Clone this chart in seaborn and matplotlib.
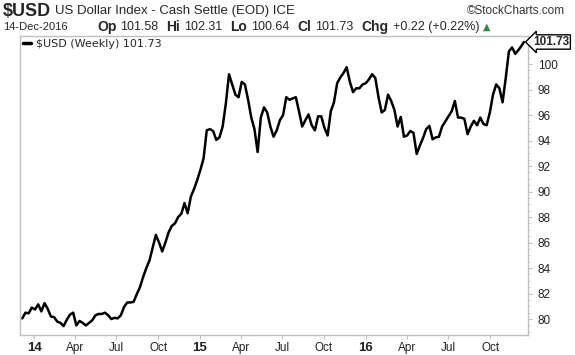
import numpy as np
import pandas as pd
import seaborn as sns
import matplotlib.pyplot as plt
import matplotlib.dates as mdates

# weekly closes of $USD (Dec 2013 .. 14 Dec 2016)
usd_weekly = [
    80.05, 80.5, 80.45, 80.9, 80.75, 81.15, 80.6, 81.25, 80.8, 80.2,
    80.15, 79.8, 79.7, 79.45, 79.95, 80.35, 80.5, 79.5, 79.85, 79.7,
    79.5, 79.7, 79.9, 80.3, 80.4, 80.4, 80.5, 80.3, 80.0, 80.1,
    80.05, 80.3, 80.95, 81.3, 81.3, 81.35, 81.95, 82.5, 83.3, 84.0,
    84.6, 85.6, 86.6, 86.0, 85.3, 86.0, 86.8, 87.3, 87.5, 88.0,
    88.25, 89.1, 88.3, 89.6, 90.2, 90.9, 91.7, 92.6, 94.8, 94.9,
    94.75, 94.05, 94.25, 95.1, 96.9, 99.2, 98.4, 97.6, 97.4, 98.6,
    98.4, 97.2, 95.8, 94.9, 93.1, 95.8, 96.6, 96.2, 95.1, 94.3,
    94.8, 95.6, 96.0, 97.4, 97.2, 97.3, 97.4, 96.3, 95.1, 95.6,
    96.05, 95.2, 94.8, 95.9, 95.9, 95.0, 94.4, 96.3, 97.0, 98.5,
    98.95, 99.3, 99.75, 98.6, 97.8, 98.1, 98.1, 98.4, 98.5, 98.8,
    99.2, 98.9, 97.4, 96.2, 96.4, 97.6, 97.1, 96.4, 95.1, 95.85,
    94.3, 94.4, 94.75, 94.6, 92.95, 93.6, 94.2, 94.9, 95.15, 94.1,
    94.25, 94.3, 95.1, 95.5, 95.9, 96.3, 97.1, 95.8, 95.8, 95.7,
    94.5, 95.1, 95.55, 95.2, 95.8, 95.3, 95.2, 96.2, 97.6, 98.4,
    98.1, 97.0, 98.9, 101.0, 101.3, 100.8, 101.1, 101.45, 101.73,
]

week_dates = list(pd.date_range("2013-12-06", periods=len(usd_weekly) - 1, freq="W-FRI"))
week_dates.append(pd.Timestamp("2016-12-14"))

# quote header
symbol = "$USD"
name = "US Dollar Index - Cash Settle (EOD) ICE"
quote_date = "14-Dec-2016"
op, hi, lo, cl = 101.58, 102.31, 100.64, 101.73
chg, chg_pct = 0.22, 0.22

y_ticks = list(range(80, 101, 2))

df = pd.DataFrame({"date": week_dates, "close": usd_weekly})

sns.set_style("white")
plt.rcParams["font.family"] = ["Liberation Sans", "DejaVu Sans"]

W, H = 575, 355
fig = plt.figure(figsize=(W / 100, H / 100), dpi=100)
# axes box in pixels: left 20, right 528, top 36, bottom 335
ax = fig.add_axes([20 / W, 1 - 335 / H, (528 - 20) / W, (335 - 36) / H])

sns.lineplot(data=df, x="date", y="close", ax=ax, color="black", linewidth=1.8)

ax.set_xlim(pd.Timestamp("2013-12-01"), pd.Timestamp("2016-12-23"))
ax.set_ylim(78.75, 102.2)
ax.set_xlabel("")
ax.set_ylabel("")

for s in ax.spines.values():
    s.set_color("#c0c0c0")
    s.set_linewidth(1.0)

# right-hand price scale
ax.yaxis.tick_right()
ax.set_yticks(y_ticks)
ax.set_yticklabels([str(t) for t in y_ticks])
ax.yaxis.set_minor_locator(plt.MultipleLocator(0.5))
ax.tick_params(axis="y", which="major", right=True, length=3, color="#c0c0c0",
               labelsize=8.5, pad=4, labelcolor="#222222")
ax.tick_params(axis="y", which="minor", right=True, length=1.5, color="#c0c0c0")

# month ticks, year ticks in bold
ax.xaxis.set_major_locator(mdates.MonthLocator(bymonth=[1, 4, 7, 10]))

def month_fmt(x, pos=None):
    d = mdates.num2date(x)
    return d.strftime("%y") if d.month == 1 else d.strftime("%b")

ax.xaxis.set_major_formatter(plt.FuncFormatter(month_fmt))
ax.tick_params(axis="x", which="major", bottom=True, length=3, color="#c0c0c0",
               labelsize=8.5, pad=2, labelcolor="#222222")
ax.tick_params(axis="x", which="minor", bottom=False)
fig.canvas.draw()
for lab in ax.get_xticklabels():
    if lab.get_text().isdigit():
        lab.set_fontweight("bold")
        lab.set_fontsize(9.5)

# legend line inside the chart
ax.plot([], [], color="black", linewidth=2.5, label=f"{symbol} (Weekly) {cl:.2f}")
ax.legend(loc="upper left", frameon=False, handlelength=0.7,
          handletextpad=0.4, borderaxespad=0.1, borderpad=0.2,
          prop={"family": "DejaVu Sans", "size": 8})

# last price tag
ax.annotate(f"{cl:.2f}", xy=(1.0, cl), xycoords=ax.get_yaxis_transform(),
            xytext=(1.01, cl), textcoords=ax.get_yaxis_transform(),
            ha="left", va="center", fontsize=8.5, fontweight="bold",
            bbox=dict(boxstyle="larrow,pad=0.1", fc="white", ec="black", lw=1.0))

# header text
def px(x, y):
    return x / W, 1 - y / H

fig.text(*px(3, 11), symbol, fontsize=13, fontweight="bold", va="center")
fig.text(*px(55, 11), name, fontsize=9.5, va="center")
fig.text(*px(565, 11), "\u00a9StockCharts.com", fontsize=8.5, va="center", ha="right",
         color="#333333")

row = 27
fig.text(*px(3, row), quote_date, fontsize=8, va="center")
parts = [
    ("Op", True), (f"{op:.2f}", False),
    ("Hi", True), (f"{hi:.2f}", False),
    ("Lo", True), (f"{lo:.2f}", False),
    ("Cl", True), (f"{cl:.2f}", False),
    ("Chg", True), (f"+{chg:.2f} (+{chg_pct:.2f}%)", False),
]
renderer = fig.canvas.get_renderer()
x = 97
for t, b in parts:
    txt = fig.text(*px(x, row), t, fontsize=10 if b else 9,
                   fontweight="bold" if b else "normal", va="center")
    bb = txt.get_window_extent(renderer)
    x += bb.width + (4 if b else 8)
fig.text(*px(x - 4, row), "\u25b2", fontsize=7, color="#2e8b3e", va="center",
         family="DejaVu Sans")

fig.savefig("out.png", dpi=100)
